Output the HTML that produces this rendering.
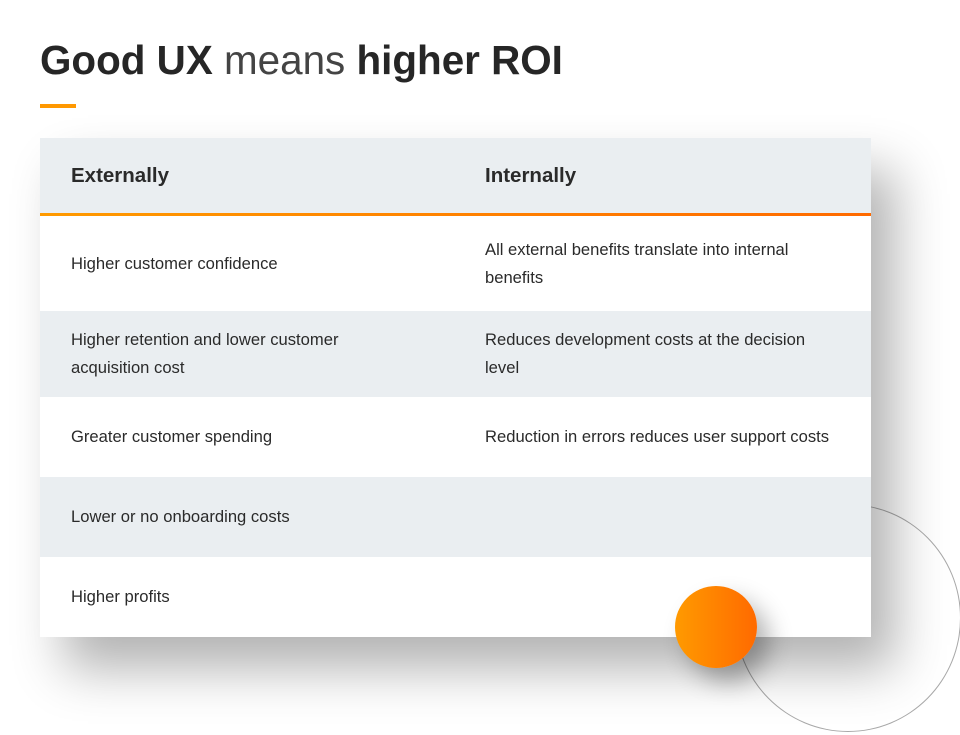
<!DOCTYPE html>
<html><head><meta charset="utf-8"><style>
body{margin:0;width:960px;height:735px;background:#fff;position:relative;overflow:hidden;font-family:"Liberation Sans",sans-serif;color:#2a2a2a}
h1{position:absolute;left:40px;top:37px;margin:0;font-size:40.4px;font-weight:bold;letter-spacing:0px;color:#262626}
h1 span{font-weight:normal;color:#444}
.bar{position:absolute;left:40px;top:104px;width:36px;height:4px;background:#ff9800}
.ring{position:absolute;left:735px;top:504px;width:226px;height:228px;border:1px solid #a8a8a8;border-radius:50%;box-sizing:border-box}
.tbl{position:absolute;left:40px;top:138px;width:831px;height:499px;background:#fff;box-shadow:24px 32px 48px rgba(0,0,0,.3)}
.row{position:absolute;left:0;width:831px}
.c{position:absolute;left:31px;font-size:16.6px;line-height:28px;top:50%;transform:translateY(-50%)}
.c2{left:445px;width:330px}
.hd .c{font-weight:bold;font-size:20.5px}
.g{background:#eaeef1}
.dot{position:absolute;left:675px;top:586px;width:82px;height:82px;border-radius:50%;background:linear-gradient(90deg,#ff9a00,#ff6a00);box-shadow:12px 14px 24px rgba(0,0,0,.3)}
</style></head><body>
<h1>Good UX <span>means</span> higher ROI</h1>
<div class="bar"></div>
<div class="ring"></div>
<div class="tbl">
<div class="row hd g" style="top:0;height:76px"><div class="c">Externally</div><div class="c c2">Internally</div></div>
<div class="row" style="top:75px;height:3px;background:linear-gradient(90deg,#ff9a00,#ff6a00)"></div>
<div class="row" style="top:78px;height:95px"><div class="c">Higher customer confidence</div><div class="c c2">All external benefits translate into internal benefits</div></div>
<div class="row g" style="top:173px;height:86px"><div class="c" style="width:300px">Higher retention and lower customer acquisition cost</div><div class="c c2">Reduces development costs at the decision level</div></div>
<div class="row" style="top:259px;height:80px"><div class="c">Greater customer spending</div><div class="c c2" style="width:380px">Reduction in errors reduces user support costs</div></div>
<div class="row g" style="top:339px;height:80px"><div class="c">Lower or no onboarding costs</div></div>
<div class="row" style="top:419px;height:80px"><div class="c">Higher profits</div></div>
</div>
<div class="dot"></div>
</body></html>
